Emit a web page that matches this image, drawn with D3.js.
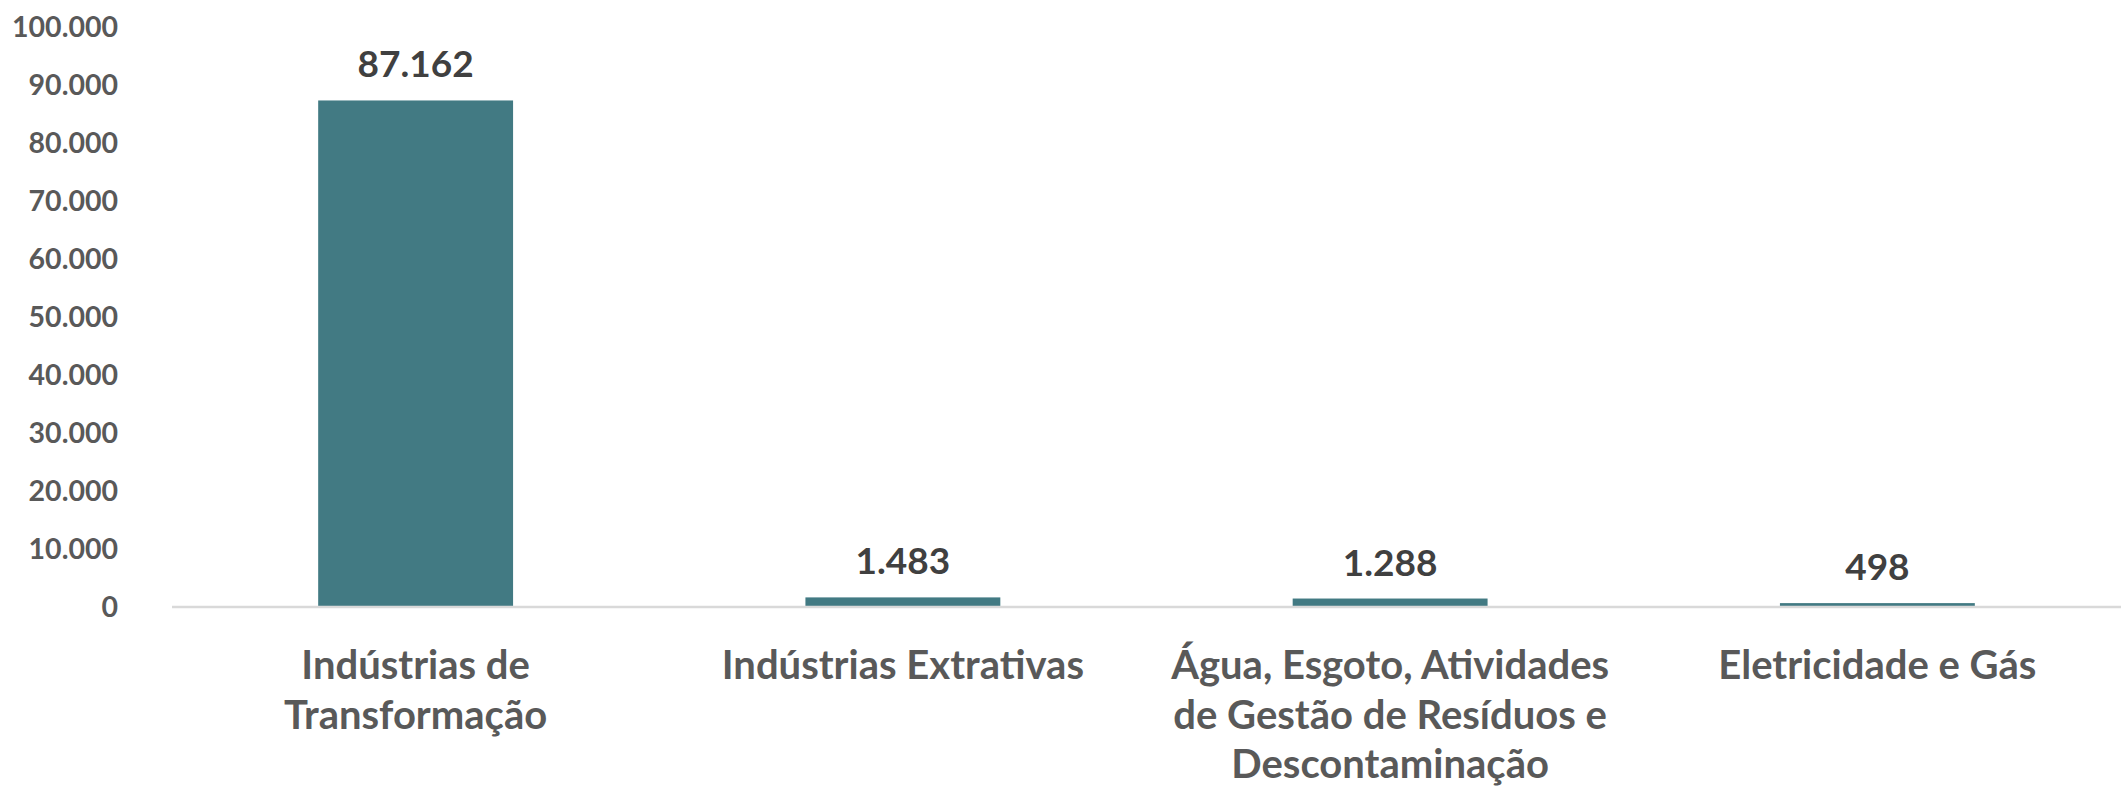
<!DOCTYPE html>
<html lang="pt">
<head>
    <meta charset="UTF-8">
    <title>Empregos por setor industrial</title>
    <script src="https://cdn.jsdelivr.net/npm/d3@7/dist/d3.min.js"></script>
    <style>
        html, body {
            margin: 0;
            padding: 0;
            background: #fff;
        }

        svg text {
            font-family: Lato, "Open Sans", sans-serif;
            font-weight: bold;
        }

        .y-axis text {
            fill: #595959;
            font-size: 28.5px;
        }

        .x-labels text {
            fill: #595959;
            font-size: 40px;
        }

        .values text {
            fill: #404040;
            font-size: 37px;
        }
    </style>
</head>
<body>
<svg id="chart"></svg>
<script>
    var categories = [
        "Indústrias de Transformação",
        "Indústrias Extrativas",
        "Água, Esgoto, Atividades de Gestão de Resíduos e Descontaminação",
        "Eletricidade e Gás"
    ];
    var values = [87162, 1483, 1288, 498];
    var yTicks = [0, 10000, 20000, 30000, 40000, 50000, 60000, 70000, 80000, 90000, 100000];

    var width = 2125;
    var height = 786;
    var margin = {top: 26, right: 4, bottom: 180, left: 172};

    var svg = d3.select("#chart")
            .attr("width", width)
            .attr("height", height);

    var fmt = function (v) {
        return d3.format(",")(v).replace(/,/g, ".");
    };

    var x = d3.scaleBand()
            .domain(categories)
            .range([margin.left, width - margin.right])
            .paddingInner(0.6)
            .paddingOuter(0.3);

    var y = d3.scaleLinear()
            .domain([0, 100000])
            .range([height - margin.bottom, margin.top]);

    // y axis labels only, no line
    var yAxis = svg.append("g")
            .attr("class", "y-axis")
            .attr("transform", "translate(" + (margin.left - 54) + ",0)")
            .call(d3.axisLeft(y).tickValues(yTicks).tickFormat(fmt).tickSize(0).tickPadding(0));
    yAxis.select(".domain").remove();
    yAxis.selectAll("text").attr("dy", "0.36em");

    svg.append("g")
            .attr("class", "bars")
            .selectAll("rect")
            .data(values)
            .enter().append("rect")
            .attr("x", function (d, i) {
                return x(categories[i]);
            })
            .attr("y", function (d) {
                return y(d);
            })
            .attr("width", x.bandwidth())
            .attr("height", function (d) {
                return y(0) - y(d);
            })
            .attr("fill", "#427A83");

    // baseline
    svg.append("line")
            .attr("x1", margin.left)
            .attr("x2", width - margin.right)
            .attr("y1", y(0) + 1)
            .attr("y2", y(0) + 1)
            .attr("stroke", "#d9d9d9")
            .attr("stroke-width", 2.5);

    svg.append("g")
            .attr("class", "values")
            .selectAll("text")
            .data(values)
            .enter().append("text")
            .attr("text-anchor", "middle")
            .attr("x", function (d, i) {
                return x(categories[i]) + x.bandwidth() / 2;
            })
            .attr("y", function (d) {
                return y(d) - 23;
            })
            .text(fmt);

    // category labels, wrapped like Excel
    var lab = svg.append("g").attr("class", "x-labels");
    categories.forEach(function (c) {
        var t = lab.append("text")
                .attr("text-anchor", "middle")
                .attr("x", x(c) + x.bandwidth() / 2)
                .attr("y", y(0) + 73);
        var words = c.split(" ");
        var lines = [];
        var line = [];
        var probe = t.append("tspan");
        words.forEach(function (w) {
            line.push(w);
            probe.text(line.join(" "));
            if (probe.node().getComputedTextLength() > 455 && line.length > 1) {
                line.pop();
                lines.push(line.join(" "));
                line = [w];
            }
        });
        lines.push(line.join(" "));
        probe.remove();
        lines.forEach(function (l, i) {
            t.append("tspan")
                    .attr("x", x(c) + x.bandwidth() / 2)
                    .attr("dy", i === 0 ? 0 : 49.5)
                    .text(l);
        });
    });
</script>
</body>
</html>
